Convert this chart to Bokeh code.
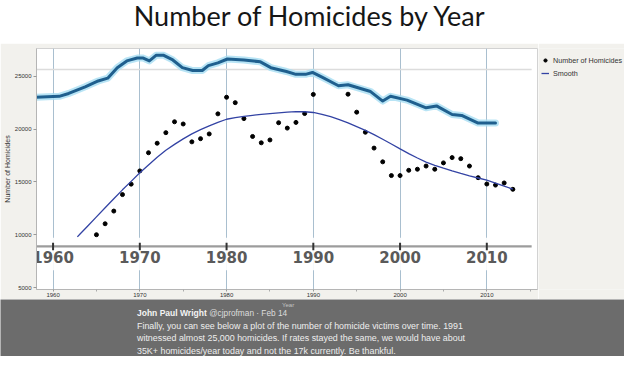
from bokeh.plotting import figure
from bokeh.layouts import column, row
from bokeh.models import Range1d, Legend, LegendItem, FixedTicker
from bokeh.core.properties import value
from bokeh.embed import file_html
from bokeh.resources import INLINE

# ---------------- data ----------------
years = [1965, 1966, 1967, 1968, 1969, 1970, 1971, 1972, 1973, 1974, 1975, 1976, 1977,
         1978, 1979, 1980, 1981, 1982, 1983, 1984, 1985, 1986, 1987, 1988, 1989, 1990,
         1994, 1995, 1996, 1997, 1998, 1999, 2000, 2001, 2002, 2003, 2004, 2005, 2006,
         2007, 2008, 2009, 2010, 2011, 2012, 2013]
homicides = [10000, 11040, 12240, 13800, 14790, 16040, 17760, 18660, 19660, 20690, 20480,
             18790, 19090, 19540, 21440, 23010, 22500, 20990, 19300, 18700, 18970, 20600,
             20090, 20630, 21470, 23280,
             23300, 21600, 19700, 18200, 16900, 15600, 15600, 16100, 16200, 16500, 16200,
             16800, 17300, 17200, 16500, 15400, 14800, 14700, 14900, 14300]

smooth_years = [1962.8, 1963, 1964, 1965, 1966, 1967, 1968, 1969, 1970, 1971, 1972, 1973,
                1974, 1975, 1976, 1977, 1978, 1979, 1980, 1981, 1982, 1983, 1984, 1985,
                1986, 1987, 1988, 1989, 1990, 1991, 1992, 1993, 1994, 1995, 1996, 1997,
                1998, 1999, 2000, 2001, 2002, 2003, 2004, 2005, 2006, 2007, 2008, 2009,
                2010, 2011, 2012, 2013]
smooth_values = [9800, 9970, 10830, 11690, 12550, 13410, 14250, 15050, 15860, 16600, 17330,
                 18000, 18550, 19070, 19550, 19950, 20300, 20630, 20930, 21080, 21200, 21300,
                 21390, 21470, 21540, 21600, 21650, 21640, 21570, 21400, 21170, 20900, 20580,
                 20230, 19880, 19480, 19040, 18590, 18120, 17680, 17260, 16880, 16570, 16300,
                 16040, 15800, 15580, 15370, 15160, 14880, 14600, 14320]

# the thick blue wavy line of the overlaid picture
overlay_years = [1958.0, 1960.7, 1961.8, 1963.7, 1965.2, 1966.3, 1967.4, 1968.5, 1969.7,
                 1970.4, 1971.1, 1971.9, 1972.7, 1973.8, 1974.9, 1976.1, 1977.2, 1977.9,
                 1979.0, 1980.1, 1982.0, 1983.9, 1985.1, 1986.9, 1988.0, 1989.1, 1989.9,
                 1991.0, 1992.9, 1994.0, 1996.6, 1998.0, 1998.9, 2000.8, 2003.0, 2004.2,
                 2006.0, 2007.1, 2009.0, 2011.0]
overlay_values = [23010, 23100, 23370, 24000, 24550, 24820, 25810, 26450, 26720, 26720,
                  26450, 26990, 26990, 26540, 25810, 25540, 25540, 26000, 26270, 26630,
                  26540, 26360, 25810, 25450, 25180, 25180, 25360, 24910, 24100, 24190,
                  23550, 22650, 23100, 22740, 22010, 22190, 21380, 21290, 20570, 20570]

decade_ticks = [1960, 1970, 1980, 1990, 2000, 2010]
decade_labels = ["1960", "1970", "1980", "1990", "2000", "2010"]
minor_ticks = [1965, 1975, 1985, 1995, 2005, 2015]
y_ticks = [5000, 10000, 15000, 20000, 25000]

title_text = "Number of Homicides by Year"
x_axis_title = "Year"
y_axis_title = "Number of Homicides"
series_name = "Number of Homicides"
smooth_name = "Smooth"
tweet_name = "John Paul Wright"
tweet_handle = "@cjprofman  \u00b7 Feb 14"
tweet_lines = [
    "Finally, you can see below a plot of the number of homicide victims over time. 1991",
    "witnessed almost 25,000 homicides. If rates stayed the same, we would have about",
    "35K+ homicides/year today and not the 17k currently.  Be thankful.",
]

OFFWHITE = "#f2f1ed"
TWEET_GRAY = "#6c6c6c"
SMOOTH_BLUE = "#3343a4"

# reference-pixel -> data helpers for the chart (decorations only)
def rx(px):
    return 1960 + (px - 54) / 8.9

def ry(py):
    return 25000 - (py - 79) * 90.5


def blank(width, height, xr, yr, bg):
    f = figure(width=width, height=height, x_range=xr, y_range=yr,
               output_backend="svg", toolbar_location=None,
               x_axis_location=None, y_axis_location=None,
               min_border=0, min_border_left=0, min_border_right=0,
               min_border_top=0, min_border_bottom=0)
    f.background_fill_color = bg
    f.border_fill_color = bg
    f.outline_line_color = None
    f.grid.visible = False
    return f


# ---------------- slide title strip ----------------
top = blank(624, 43, Range1d(0, 640), Range1d(45, 0), "white")
top.text(x=[318], y=[15.5], text=[title_text], text_font=value("Lato"), text_font_size="27px",
         text_color="#161616", text_align="center", text_baseline="middle")

# ---------------- chart ----------------
p = figure(width=538, height=256,
           x_range=Range1d(rx(37), rx(551)), y_range=Range1d(ry(302), ry(50)),
           output_backend="svg", toolbar_location=None,
           min_border_left=36, min_border_right=1, min_border_top=5, min_border_bottom=10)
p.background_fill_color = "white"
p.border_fill_color = OFFWHITE
p.outline_line_color = "#d2d2d2"

p.xaxis.ticker = FixedTicker(ticks=decade_ticks, minor_ticks=minor_ticks)
p.yaxis.ticker = FixedTicker(ticks=y_ticks)
for ax in (p.xaxis[0], p.yaxis[0]):
    ax.axis_line_color = "#b5b5b5"
    ax.major_tick_line_color = "#999999"
    ax.minor_tick_line_color = "#aaaaaa"
    ax.major_tick_in = 0
    ax.minor_tick_in = 0
    ax.major_label_text_font = "Liberation Sans"
    ax.major_label_text_font_size = "6px"
    ax.major_label_text_color = "#333333"
    ax.axis_label_text_font = "Liberation Sans"
    ax.axis_label_text_font_style = "normal"
p.yaxis.major_tick_out = 3
p.yaxis.major_label_standoff = 2
p.yaxis.minor_tick_line_color = None
p.yaxis.axis_label = y_axis_title
p.yaxis.axis_label_text_font_size = "7px"
p.yaxis.axis_label_text_color = "#333333"
p.yaxis.axis_label_standoff = 1
p.xaxis.major_tick_out = 2
p.xaxis.minor_tick_out = 2
p.xaxis.major_label_standoff = 1

p.xgrid.ticker = FixedTicker(ticks=decade_ticks)
p.xgrid.grid_line_color = "#a9bfcf"
p.xgrid.grid_line_width = 1
p.ygrid.grid_line_color = None

# faint top line of the overlaid picture
p.segment(x0=[rx(37)], x1=[rx(545)], y0=[ry(72)], y1=[ry(72)], line_color="#dcdcdc", line_width=1.5)

pts = p.scatter(years, homicides, size=4, color="black")
smooth = p.line(smooth_years, smooth_values, line_color=SMOOTH_BLUE, line_width=1.3)

# overlaid wavy blue line (glow + core)
p.line(overlay_years, overlay_values, line_color="#a6ddf3", line_width=7, line_alpha=0.8,
       line_join="round", line_cap="round")
p.line(overlay_years, overlay_values, line_color="#1f5f8e", line_width=3,
       line_join="round", line_cap="round")

# overlaid axis band with big year labels
p.quad(left=[rx(36)], right=[rx(545)], bottom=[ry(282)], top=[ry(248)],
       fill_color="white", fill_alpha=0.9, line_color=None)
p.segment(x0=[rx(36)], x1=[rx(545)], y0=[ry(257)], y1=[ry(257)], line_color="#9c9c9c", line_width=2.2)
p.segment(x0=decade_ticks, x1=decade_ticks, y0=[ry(253)] * len(decade_ticks),
          y1=[ry(261)] * len(decade_ticks), line_color="#333333", line_width=2)
p.text(x=decade_ticks, y=[ry(268)] * len(decade_ticks), text=decade_labels,
       text_font=value("DejaVu Sans"), text_font_style="bold", text_font_size="15px",
       text_color="#5a5a5a", text_align="center", text_baseline="middle")

# ---------------- legend strip (right of the chart) ----------------
# legend proxies: same styles as the chart's renderers, kept outside this strip's view
lg = blank(86, 256, Range1d(0, 1), Range1d(0, 1), OFFWHITE)
lg_pts = lg.scatter(x=[years[0]], y=[homicides[0]], size=4, color="black")
lg_line = lg.line(x=smooth_years[:2], y=smooth_values[:2], line_color=SMOOTH_BLUE, line_width=1.3)
legend = Legend(items=[LegendItem(label=series_name, renderers=[lg_pts]),
                       LegendItem(label=smooth_name, renderers=[lg_line])],
                location=(3, 211), padding=0, margin=0, spacing=3,
                glyph_width=8, glyph_height=10, label_height=10, label_standoff=4,
                label_text_font="Liberation Sans", label_text_font_size="7.2px",
                label_text_color="#333333", border_line_color=None, background_fill_alpha=0)
lg.add_layout(legend)

# ---------------- tweet box ----------------
tw = blank(624, 57, Range1d(0, 640), Range1d(372, 312), TWEET_GRAY)
tw.text(x=[295], y=[317.5], text=[x_axis_title], text_font=value("Liberation Sans"),
        text_font_size="6px", text_color="#c4c4c4", text_align="center", text_baseline="middle")
tw.text(x=[140], y=[326], text=[tweet_name], text_font=value("Liberation Sans"),
        text_font_style="bold", text_font_size="8.5px", text_color="#f4f4f4", text_baseline="middle")
tw.text(x=[214], y=[326], text=[tweet_handle], text_font=value("Liberation Sans"),
        text_font_size="8.3px", text_color="#dcdcdc", text_baseline="middle")
tw.text(x=[140] * len(tweet_lines), y=[339.5, 353, 366.5], text=tweet_lines,
        text_font=value("Liberation Sans"), text_font_size="8.9px", text_color="#eeeeee",
        text_baseline="middle")

page = column(top, row(p, lg, spacing=0), tw, spacing=0)
open("out.html", "w").write(file_html(page, INLINE))
